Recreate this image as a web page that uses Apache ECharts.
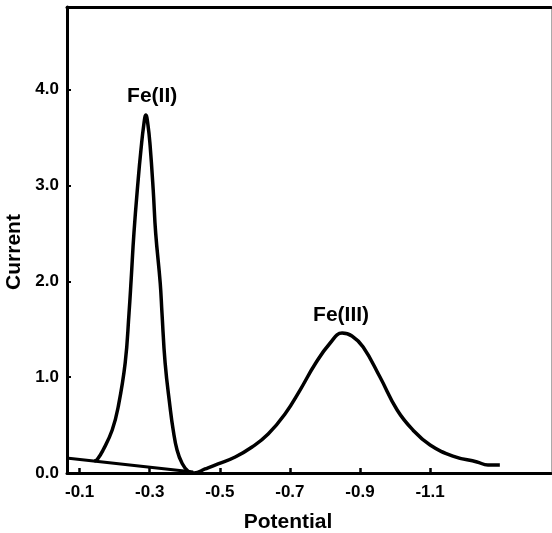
<!DOCTYPE html>
<html>
<head>
<meta charset="utf-8">
<script src="https://cdn.jsdelivr.net/npm/echarts@6/dist/echarts.min.js"></script>
<style>
html,body{margin:0;padding:0;background:#fff;}
#chart{width:552px;height:533px;}
</style>
</head>
<body>
<div id="chart"></div>
<script>
// Baseline (tangent) line
const basePotential = [-0.062, -0.424];
const baseCurrent = [0.157, 0.010];

// Main voltammogram curve
const curvePotential = [-0.142, -0.150, -0.167, -0.193, -0.210, -0.230, -0.241, -0.247, -0.255, -0.267, -0.275, -0.283, -0.289,
  -0.295, -0.301, -0.310, -0.317, -0.330, -0.335, -0.344, -0.358, -0.367, -0.378, -0.392, -0.409, -0.427,
  -0.458, -0.495, -0.544, -0.592, -0.638, -0.686, -0.729, -0.772, -0.815, -0.849, -0.877, -0.909, -0.957, -1.006,
  -1.051, -1.100, -1.165, -1.234, -1.265, -1.299];
const curveCurrent = [0.125, 0.140, 0.240, 0.449, 0.689, 1.148, 1.670, 2.015, 2.505, 3.058, 3.372, 3.633, 3.737,
  3.633, 3.424, 2.954, 2.505, 1.983, 1.670, 1.148, 0.689, 0.449, 0.240, 0.104, 0.021, 0.000,
  0.042, 0.094, 0.167, 0.271, 0.407, 0.616, 0.866, 1.138, 1.357, 1.461, 1.430, 1.315, 1.002, 0.658,
  0.449, 0.292, 0.177, 0.115, 0.084, 0.084];

// Tick labels
const xTicks = [-0.1, -0.3, -0.5, -0.7, -0.9, -1.1];
const yTicks = [0, 1, 2, 3, 4];

// Peak annotations
const peakNames = ['Fe(II)', 'Fe(III)'];
const peakLabelPotential = [-0.307, -0.846];
const peakLabelCurrent = [3.93, 1.65];

const FONT = '"Liberation Sans", Arial, sans-serif';
const chart = echarts.init(document.getElementById('chart'));

const zip = (a, b) => a.map((v, i) => [v, b[i]]);

chart.setOption({
  animation: false,
  backgroundColor: '#ffffff',
  grid: { left: 67, right: 1, top: 7, bottom: 60, containLabel: false, outerBoundsMode: 'none' },
  xAxis: [{
    type: 'value', inverse: true, min: -1.445, max: -0.064,
    name: 'Potential', nameLocation: 'middle', nameGap: 39,
    nameTextStyle: { fontFamily: FONT, fontWeight: 'bold', fontSize: 21, color: '#000', padding: [0, 42, 0, 0] },
    axisLine: { show: true, onZero: false, lineStyle: { color: '#000', width: 3 } },
    axisTick: { show: true, inside: true, length: 5, customValues: xTicks, lineStyle: { color: '#000', width: 2.5 } },
    axisLabel: { customValues: xTicks, margin: 11, fontFamily: FONT, fontWeight: 'bold', fontSize: 17, color: '#000',
      formatter: v => v.toFixed(1) },
    splitLine: { show: false }
  }, {
    type: 'value', inverse: true, min: -1.445, max: -0.064, position: 'top',
    axisLine: { show: true, onZero: false, lineStyle: { color: '#000', width: 3 } },
    axisTick: { show: false }, axisLabel: { show: false }, splitLine: { show: false }
  }],
  yAxis: [{
    type: 'value', min: 0, max: 4.864,
    name: 'Current', nameLocation: 'middle', nameGap: 39,
    nameTextStyle: { fontFamily: FONT, fontWeight: 'bold', fontSize: 21, color: '#000', padding: [0, 24, 0, 0] },
    axisLine: { show: true, onZero: false, lineStyle: { color: '#000', width: 3 } },
    axisTick: { show: true, inside: true, length: 4, customValues: yTicks, lineStyle: { color: '#000', width: 2 } },
    axisLabel: { customValues: yTicks, margin: 8, fontFamily: FONT, fontWeight: 'bold', fontSize: 17, color: '#000',
      formatter: v => v.toFixed(1) },
    splitLine: { show: false }
  }, {
    type: 'value', min: 0, max: 4.864, position: 'right',
    axisLine: { show: true, onZero: false, lineStyle: { color: '#aaa', width: 1 } },
    axisTick: { show: false }, axisLabel: { show: false }, splitLine: { show: false }
  }],
  series: [{
    name: 'Baseline', type: 'line', data: zip(basePotential, baseCurrent),
    symbol: 'none', lineStyle: { color: '#000', width: 3 }
  }, {
    name: 'Current', type: 'line', data: zip(curvePotential, curveCurrent),
    symbol: 'none', smooth: 0.45, lineStyle: { color: '#000', width: 3.5 },
    markPoint: {
      symbol: 'circle', symbolSize: 0,
      label: { show: true, position: 'inside', fontFamily: FONT, fontWeight: 'bold', fontSize: 21, color: '#000',
        formatter: p => p.name },
      data: peakNames.map((n, i) => ({ name: n, coord: [peakLabelPotential[i], peakLabelCurrent[i]] }))
    }
  }]
});
</script>
</body>
</html>
